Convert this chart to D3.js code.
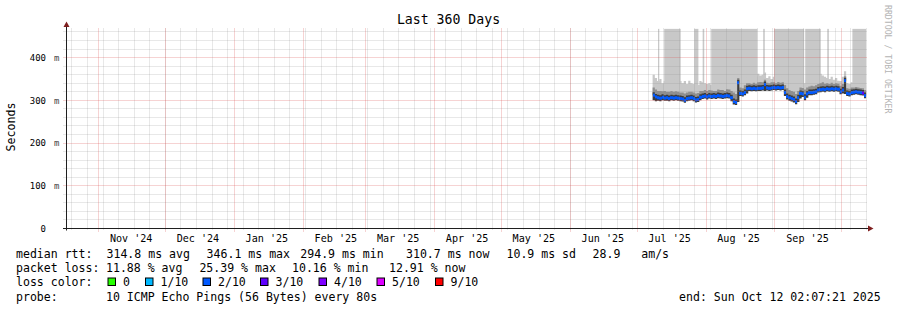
<!DOCTYPE html>
<html>
<head>
<meta charset="utf-8">
<script src="https://cdn.jsdelivr.net/npm/d3@7"></script>
<style>
  body { margin: 0; background: #fff; }
  svg { display: block; font-family: "DejaVu Sans Mono", monospace; }
  text { white-space: pre; }
</style>
</head>
<body>
<svg width="897" height="310"></svg>
<script>
// one value per day, starting at firstDay
const firstDay = '2025-07-08';
const median = [
  312, 308, 306, 305, 307, 305, 306,
  304, 306, 305, 306, 305, 304, 303,
  300, 304, 305, 306, 304, 301, 302,
  307, 309, 310, 308, 310, 309, 310,
  309, 311, 310, 309, 310, 311, 310,
  306, 297, 295, 341, 316, 315, 318,
  327, 328, 327, 328, 327, 328, 328,
  329, 337, 329, 328, 329, 330, 329,
  330, 329, 330, 318, 309, 306, 304,
  302, 297, 306, 316, 315, 307, 315,
  318, 318, 319, 320, 324, 325, 326,
  325, 327, 326, 327, 326, 327, 326,
  320, 324, 346, 316, 315, 318, 319,
  320, 319, 318, 317, 311
];
const pingMin = [
  300, 298, 299, 298, 300, 299, 299,
  298, 300, 299, 300, 299, 298, 297,
  294, 298, 299, 300, 298, 295, 296,
  300, 303, 304, 302, 304, 303, 304,
  303, 305, 304, 303, 304, 305, 304,
  298, 290, 289, 296, 310, 309, 312,
  316, 322, 321, 322, 321, 322, 322,
  323, 322, 323, 322, 323, 324, 323,
  324, 323, 324, 310, 302, 299, 297,
  295, 291, 296, 304, 308, 300, 306,
  312, 312, 313, 314, 318, 319, 320,
  319, 321, 320, 321, 320, 321, 320,
  314, 316, 315, 310, 309, 312, 313,
  314, 313, 312, 311, 305
];
const pingMid = [
  330, 325, 322, 322, 321, 322, 320,
  320, 322, 320, 321, 320, 318, 318,
  316, 318, 320, 320, 318, 316, 317,
  322, 322, 324, 322, 324, 323, 322,
  322, 325, 324, 324, 322, 326, 325,
  322, 318, 315, 352, 330, 328, 335,
  340, 340, 338, 341, 339, 342, 343,
  342, 348, 341, 340, 342, 342, 340,
  343, 341, 342, 336, 328, 324, 322,
  320, 315, 322, 330, 329, 325, 330,
  332, 334, 333, 335, 338, 340, 342,
  339, 340, 338, 341, 338, 340, 339,
  334, 338, 356, 328, 327, 330, 330,
  331, 330, 329, 328, 324
];
const pingMax = [
  360, 352, 345, 350, 340, 345, 345,
  340, 345, 342, 348, 340, 345, 340,
  345, 338, 346, 340, 338, 344, 336,
  345, 342, 340, 338, 340, 336, 338,
  340, 344, 340, 338, 342, 340, 346,
  340, 338, 332, 372, 350, 348, 352,
  355, 352, 355, 350, 356, 362, 358,
  360, 365, 352, 356, 350, 355, 352,
  356, 350, 355, 350, 345, 340, 338,
  336, 332, 338, 345, 342, 340, 345,
  348, 350, 346, 352, 360, 362, 358,
  355, 352, 350, 355, 348, 352, 346,
  345, 355, 368, 340, 338, 342, 340,
  342, 340, 338, 336, 335
];
const lossPct = [
  12.1, 11.4, 10.8, 11.6, 12.3, 11.9, 12.8, 11.2, 10.9, 11.5,
  12.0, 11.7, 12.4, 11.1, 12.9, 11.3, 10.6, 11.8, 12.2, 13.1,
  12.6, 11.0, 11.4, 10.7, 11.9, 12.5, 11.6, 10.9, 11.3, 12.0,
  11.8, 10.5, 11.2, 12.1, 11.7, 12.8, 13.6, 14.2, 13.0, 12.4,
  11.9, 11.5, 11.1, 10.8, 11.6, 12.0, 11.4, 10.9, 11.2, 11.8,
  12.7, 11.3, 10.6, 11.1, 11.9, 12.3, 11.5, 10.8, 11.0, 12.6,
  13.3, 12.1, 11.4, 11.9, 12.8, 12.2, 11.6, 11.0, 12.4, 11.7,
  11.2, 10.9, 11.5, 11.8, 12.0, 11.3, 10.7, 11.1, 11.6, 12.2,
  11.4, 10.2, 11.0, 11.7, 12.5, 12.9, 13.4, 12.0, 11.5, 11.8,
  12.3, 11.6, 12.1, 12.7, 25.4, 12.9
];
// periods where the slowest pings went off the top of the graph
const offScale = [
  ['2025-07-10T10:00', '2025-07-11T00:00'],
  ['2025-07-13T05:00', '2025-07-20T15:00'],
  ['2025-07-26T17:00', '2025-07-28T14:00'],
  ['2025-07-30T12:00', '2025-07-31T05:00'],
  ['2025-08-03T08:00', '2025-08-24T02:00'],
  ['2025-08-26T17:00', '2025-08-27T10:00'],
  ['2025-08-31T14:00', '2025-09-14T03:00'],
  ['2025-09-14T14:00', '2025-09-21T14:00'],
  ['2025-09-24T12:00', '2025-09-25T05:00'],
  ['2025-10-05T19:00', '2025-10-12T02:07']
];
const endTime = '2025-10-12T02:07:21Z';
const yTicks = [0, 100, 200, 300, 400];
const lossLabels = ['0', '1/10', '2/10', '3/10', '4/10', '5/10', '9/10'];
const lossBounds = [0, 10, 20, 30, 40, 50, 90];
const lossColors = ['#26ff00', '#00b8ff', '#0059ff', '#5e00ff', '#7e00ff', '#dd00ff', '#ff0000'];
const rttStats = ['314.8 ms avg', '346.1 ms max', '294.9 ms min', '310.7 ms now', '10.9 ms sd', '28.9   am/s'];
const lossStats = ['11.88 % avg', '25.39 % max', '10.16 % min', '12.91 % now'];
const probeText = '10 ICMP Echo Pings (56 Bytes) every 80s';

const svg = d3.select('svg');
const end = new Date(endTime);
const start = new Date(end - 360 * 864e5);
const x = d3.scaleUtc().domain([start, end]).range([65.4, 866.4]);
const y = d3.scaleLinear().domain([0, 468]).range([228.5, 28.5]);
const plotTop = 28.5, base = 228.5, left = 66.5, right = 866.5;

svg.append('rect').attr('width', 897).attr('height', 310).attr('fill', '#fff');

const defs = svg.append('defs');
defs.append('clipPath').attr('id', 'plot')
  .append('rect').attr('x', left).attr('y', plotTop).attr('width', right - left).attr('height', base - plotTop);
defs.append('clipPath').attr('id', 'off')
  .selectAll('rect').data(offScale).enter().append('rect')
    .attr('x', d => x(new Date(d[0] + 'Z')))
    .attr('width', d => x(new Date(d[1] + 'Z')) - x(new Date(d[0] + 'Z')))
    .attr('y', plotTop).attr('height', base - plotTop);

const day0 = new Date(firstDay + 'T00:00:00Z');
const rows = median.map((m, i) => ({
  t: d3.utcDay.offset(day0, i), med: m, lo: pingMin[i], mid: pingMid[i], hi: pingMax[i], loss: lossPct[i]
}));
const steps = rows.concat([{ ...rows[rows.length - 1], t: d3.utcDay.offset(day0, rows.length) }]);

const band = (lo, hi) => d3.area().curve(d3.curveStepAfter).x(d => x(d.t)).y0(lo).y1(hi);
const plot = svg.append('g').attr('clip-path', 'url(#plot)');

// smoke: off-scale columns, then lighter to darker layers
plot.append('path').attr('clip-path', 'url(#off)')
  .attr('d', band(d => y(d.med), plotTop)(steps)).attr('fill', '#c8c8c8');
plot.append('path').attr('d', band(d => y(d.med), d => y(d.hi))(steps)).attr('fill', '#c8c8c8');
plot.append('path').attr('d', band(d => y(d.med), d => y(d.mid))(steps)).attr('fill', '#8f8f8f');
plot.append('path').attr('d', band(d => y(d.lo), d => y(d.med + 7))(steps)).attr('fill', '#3c3c3c');

const lossColor = v => lossColors[lossBounds.findIndex(b => v <= b)];
plot.selectAll('rect.med').data(rows).enter().append('rect')
  .attr('class', 'med')
  .attr('x', d => Math.round(x(d.t)))
  .attr('width', d => Math.round(x(d3.utcDay.offset(d.t, 1))) - Math.round(x(d.t)))
  .attr('y', d => y(d.med) - 1.5).attr('height', 3)
  .attr('fill', d => lossColor(d.loss));

// grid on top of the data, like rrdtool
const grid = svg.append('g').attr('fill', 'none').attr('stroke-dasharray', '1,1');
const px = v => Math.floor(v) + 0.5;
const minorY = d3.range(20, 468, 20).filter(v => v % 100);
const majorY = yTicks.filter(v => v > 0);
const minorColor = 'rgba(143,143,143,0.42)', majorColor = 'rgba(222,80,80,0.5)';
grid.selectAll('line.hy').data(minorY).enter().append('line')
  .attr('x1', 63.5).attr('x2', right).attr('y1', d => px(y(d))).attr('y2', d => px(y(d)))
  .attr('stroke', minorColor);
const sundays = d3.utcSunday.range(start, end);
grid.selectAll('line.vx').data(sundays).enter().append('line')
  .attr('x1', d => px(x(d))).attr('x2', d => px(x(d))).attr('y1', plotTop).attr('y2', base + 1)
  .attr('stroke', minorColor);
grid.selectAll('line.hmy').data(majorY).enter().append('line')
  .attr('x1', 63.5).attr('x2', right).attr('y1', d => px(y(d))).attr('y2', d => px(y(d)))
  .attr('stroke', majorColor);
const months = d3.utcMonth.range(d3.utcMonth.ceil(start), end);
grid.selectAll('line.vmx').data(months).enter().append('line')
  .attr('x1', d => px(x(d))).attr('x2', d => px(x(d))).attr('y1', plotTop).attr('y2', base + 3)
  .attr('stroke', majorColor);

// axes and arrows
svg.append('line').attr('x1', 63).attr('x2', 868).attr('y1', base).attr('y2', base).attr('stroke', '#1f1f1f');
svg.append('line').attr('x1', left).attr('x2', left).attr('y1', base + 2).attr('y2', 25).attr('stroke', '#1f1f1f');
svg.append('path').attr('d', `M868,${base - 3}L873.5,${base}L868,${base + 3}Z`).attr('fill', '#7f1f1f');
svg.append('path').attr('d', `M${left - 3},27L${left},21.5L${left + 3},27Z`).attr('fill', '#7f1f1f');

// y labels
const yl = svg.append('g').attr('font-size', '9px').attr('fill', '#000');
yl.selectAll('text.n').data(yTicks).enter().append('text')
  .attr('x', 46).attr('y', d => y(d) + 3.3).attr('text-anchor', 'end').text(d => d);
yl.selectAll('text.u').data(majorY).enter().append('text')
  .attr('x', 54).attr('y', d => y(d) + 3.3).attr('fill', '#444').text('m');

// x labels, centred in each month
const fmt = d3.utcFormat("%b '%y");
svg.append('g').attr('font-size', '10.1px').attr('text-anchor', 'middle')
  .selectAll('text').data(months.filter(m => d3.utcDay.offset(m, 15) < end)).enter().append('text')
    .attr('x', d => x(d3.utcDay.offset(d, 15)) - 0.8).attr('y', 241.5).text(fmt);

// titles
svg.append('text').attr('x', 448.5).attr('y', 24).attr('text-anchor', 'middle')
  .attr('font-size', '13.2px').text('Last 360 Days');
svg.append('text').attr('transform', 'translate(14.5,127) rotate(-90)').attr('text-anchor', 'middle')
  .attr('font-size', '11.6px').text('Seconds');
svg.append('text').attr('transform', 'translate(884.5,5) rotate(90)')
  .attr('font-size', '8.2px').attr('fill', '#b4b4b4').text('RRDTOOL / TOBI OETIKER');

// legend
const leg = svg.append('g').attr('font-size', '11.55px');
const rowY = [257.8, 272, 286.2, 300.6];
const line = (row, xs, items) => items.forEach((s, i) =>
  leg.append('text').attr('x', xs[i]).attr('y', rowY[row]).text(s));
line(0, [16, 106.5, 206.6, 300.3, 406, 506.5, 592.6], ['median rtt:'].concat(rttStats));
line(1, [16, 106, 199.4, 292, 389], ['packet loss:'].concat(lossStats));
line(2, [16], ['loss color:']);
const boxX = [108, 145.5, 203, 260.5, 319, 377, 435.5];
lossLabels.forEach((s, i) => {
  leg.append('rect').attr('x', boxX[i]).attr('y', 278).attr('width', 7.5).attr('height', 7.5)
    .attr('fill', lossColors[i]).attr('stroke', '#000').attr('stroke-width', 1);
  leg.append('text').attr('x', boxX[i] + 15).attr('y', rowY[2]).text(s);
});
line(3, [16, 106], ['probe:', probeText]);
leg.append('text').attr('x', 880.7).attr('y', rowY[3]).attr('text-anchor', 'end')
  .text('end: ' + d3.utcFormat('%a %b %d %H:%M:%S %Y')(end));
</script>
</body>
</html>
